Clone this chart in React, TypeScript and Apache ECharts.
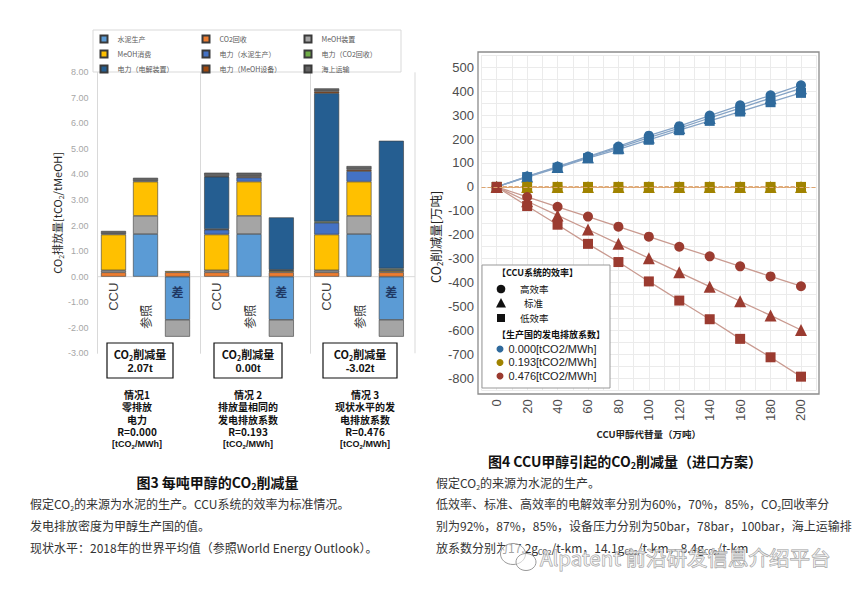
import React, { useEffect, useRef } from 'react';
import * as echarts from 'echarts';

const FONT = '"Liberation Sans", "Noto Sans CJK SC", sans-serif';
const FONT_CJK = '"Noto Sans CJK SC", "Liberation Sans", sans-serif';

// ===== 图3 每吨甲醇的CO2削减量 =====
const barCategories = ['CCU', '参照', '差'];
const componentNames = [
  '水泥生产', 'CO2回收', 'MeOH装置', 'MeOH消费', '电力（水泥生产）',
  '电力（CO2回收）', '电力（电解装置）', '电力（MeOH设备）', '海上运输',
];
const componentColors = [
  '#5B9BD5', '#ED7D31', '#A5A5A5', '#FFC000', '#4472C4',
  '#70AD47', '#255E91', '#9E480E', '#636363',
];
// order: [情况1 CCU, 参照, 差, 情况2 CCU, 参照, 差, 情况3 CCU, 参照, 差]
const cementProduction = [0, 1.67, -1.69, 0, 1.67, -1.69, 0, 1.67, -1.69];
const co2Capture = [0.17, 0, 0.17, 0.17, 0, 0.17, 0.17, 0, 0.17];
const meohPlant = [0.08, 0.71, -0.66, 0.08, 0.71, -0.66, 0.08, 0.71, -0.66];
const meohConsumption = [1.4, 1.34, 0.05, 1.4, 1.34, 0.05, 1.4, 1.34, 0.05];
const powerCement = [0, 0, 0, 0.19, 0.16, 0.03, 0.46, 0.41, 0.05];
const powerCapture = [0, 0, 0, 0.02, 0, 0.02, 0.05, 0, 0.05];
const powerElectrolysis = [0, 0, 0, 2.05, 0, 2.05, 5.02, 0, 5.0];
const powerMeoh = [0, 0, 0, 0.03, 0.04, 0, 0.07, 0.06, 0];
const shipping = [0.14, 0.15, 0, 0.13, 0.15, 0, 0.12, 0.14, 0];
const componentValues = [
  cementProduction, co2Capture, meohPlant, meohConsumption, powerCement,
  powerCapture, powerElectrolysis, powerMeoh, shipping,
];
const legendColumns = [
  ['水泥生产', 'MeOH消费', '电力（电解装置）'],
  ['CO2回收', '电力（水泥生产）', '电力（MeOH设备）'],
  ['MeOH装置', '电力（CO2回收）', '海上运输'],
];
const reductionValues = ['2.07t', '0.00t', '-3.02t'];
const scenarioLines = [
  ['情况1', '零排放', '电力', 'R=0.000'],
  ['情况 2', '排放量相同的', '发电排放系数', 'R=0.193'],
  ['情况 3', '现状水平的发', '电排放系数', 'R=0.476'],
];

// ===== 图4 CCU甲醇引起的CO2削减量 =====
const substitution = [0, 20, 40, 60, 80, 100, 120, 140, 160, 180, 200];
const factorNames = ['0.000[tCO2/MWh]', '0.193[tCO2/MWh]', '0.476[tCO2/MWh]'];
const factorColors = ['#2F6A9C', '#A08300', '#9B3B30'];
const factorLineColors = ['#86A4C6', '#DDA46E', '#C99A90'];
const efficiencyNames = ['高效率', '标准', '低效率'];
const r000High = [0, 44, 85, 127, 169, 214, 254, 298, 341, 383, 425];
const r000Std = [0, 43, 83, 124, 164, 206, 246, 288, 329, 371, 412];
const r000Low = [0, 41, 80, 120, 157, 197, 237, 276, 315, 354, 393];
const r193High = [0, 0, 0, 0, 0, 0, 0, 0, 0, 0, 0];
const r193Std = [0, 0, 0, 0, 0, 0, 0, 0, 0, 0, 0];
const r193Low = [0, 0, 0, 0, 0, 0, 0, 0, 0, 0, 0];
const r476High = [0, -42, -83, -124, -166, -208, -250, -290, -332, -374, -415];
const r476Std = [0, -60, -119, -178, -238, -298, -357, -417, -478, -537, -598];
const r476Low = [0, -80, -158, -238, -314, -395, -475, -553, -635, -712, -793];
const lineSeriesValues = [
  [r000High, r000Std, r000Low],
  [r193High, r193Std, r193Low],
  [r476High, r476Std, r476Low],
];

const mkRich = (size: number, weight: string, color: string, family = FONT_CJK) => {
  const s = Math.round(size * 0.62);
  return {
    n: { fontSize: size, fontWeight: weight, fontFamily: family, fill: color, color, lineHeight: size + 4 },
    s: { fontSize: s, fontWeight: weight, fontFamily: family, fill: color, color, lineHeight: s + 1, verticalAlign: 'bottom' },
  };
};

const txt = (x: number, y: number, text: string, size: number, o: any = {}) => ({
  type: 'text',
  x,
  y,
  z: o.z ?? 6,
  rotation: o.rotation ?? 0,
  style: {
    text,
    fontSize: size,
    fontFamily: o.family ?? FONT_CJK,
    fontWeight: o.weight ?? 'normal',
    fill: o.color ?? '#222',
    stroke: o.stroke,
    lineWidth: o.lineWidth,
    align: o.align ?? 'left',
    textAlign: o.align ?? 'left',
    verticalAlign: 'middle',
    textVerticalAlign: 'middle',
    rich: o.rich,
  },
});

function buildOption() {
  const L_TOP = 72.3;
  const L_H = 281;
  const L_MIN = -3;
  const L_MAX = 8;
  const zeroY = L_TOP + (L_H * L_MAX) / (L_MAX - L_MIN);
  const zeroOffset = -(L_TOP + L_H - zeroY);
  const leftGrids = [
    { left: 97.5, width: 96 },
    { left: 200.5, width: 97 },
    { left: 310.5, width: 97 },
  ];
  const rGrid = { left: 481.5, top: 55.3, width: 334.7, height: 335 };

  const grid: any[] = leftGrids.map((g) => ({
    left: g.left, top: L_TOP, width: g.width, height: L_H,
    containLabel: false, outerBoundsMode: 'none',
  }));
  grid.push({ ...rGrid, containLabel: false, outerBoundsMode: 'none' });

  const xAxis: any[] = leftGrids.map((_, g) => ({
    type: 'category',
    gridIndex: g,
    data: barCategories,
    position: 'bottom',
    offset: zeroOffset,
    axisLine: { show: false, onZero: false },
    axisTick: { show: false },
    splitLine: { show: false },
    axisLabel: {
      interval: 0,
      rotate: 90,
      margin: 6,
      fontSize: 13,
      color: '#404040',
      fontFamily: FONT,
      formatter: (v: string) => (v === '差' ? '' : v === '参照' ? '{r|参照}' : v),
      rich: { r: { fontSize: 12, color: '#404040', fontFamily: FONT_CJK, padding: [0, 22, 0, 0] } },
    },
  }));
  xAxis.push({
    type: 'value',
    gridIndex: 3,
    min: -10,
    max: 210,
    interval: 10,
    axisLine: { show: false, onZero: false },
    axisTick: { show: false },
    splitLine: { show: true, lineStyle: { color: '#ebebeb', width: 1 } },
    axisLabel: {
      rotate: 90,
      margin: 9,
      fontSize: 13,
      color: '#4d4d4d',
      fontFamily: FONT,
      formatter: (v: number) => (v >= 0 && v <= 200 && v % 20 === 0 ? String(v) : ''),
    },
    name: 'CCU甲醇代替量（万吨）',
    nameLocation: 'middle',
    nameGap: 35,
    nameTextStyle: { fontSize: 9.5, fontWeight: 'bold', color: '#222', fontFamily: FONT_CJK },
  });

  const yAxis: any[] = leftGrids.map((_, g) => ({
    type: 'value',
    gridIndex: g,
    min: L_MIN,
    max: L_MAX,
    interval: 1,
    axisLine: { show: true, onZero: false, lineStyle: { color: '#d9d9d9', width: 1 } },
    axisTick: { show: false },
    splitLine: { show: false },
    axisLabel: g === 0
      ? { show: true, margin: 9, fontSize: 9, color: '#a6a6a6', fontFamily: FONT, formatter: (v: number) => v.toFixed(2) }
      : { show: false },
    name: g === 0 ? '{n|CO}{s|2}{n|排放量[tCO}{s|2}{n|/tMeOH]}' : '',
    nameLocation: 'middle',
    nameGap: 28,
    nameTextStyle: { rich: mkRich(11, 'normal', '#262626') },
  }));
  yAxis.push({
    type: 'value',
    gridIndex: 3,
    min: -850,
    max: 550,
    interval: 50,
    axisLine: { show: false },
    axisTick: { show: false },
    splitLine: { show: true, lineStyle: { color: '#ebebeb', width: 1 } },
    axisLabel: {
      margin: 7.5,
      fontSize: 13,
      color: '#4d4d4d',
      fontFamily: FONT,
      formatter: (v: number) => (v % 100 === 0 && v >= -800 && v <= 500 ? String(v) : ''),
    },
    name: '{n|CO}{s|2}{n|削减量[万吨]}',
    nameLocation: 'middle',
    nameGap: 38,
    nameTextStyle: { padding: [0, 28, 0, 0], rich: mkRich(12.5, 'normal', '#222') },
  });

  const series: any[] = [];
  leftGrids.forEach((_, g) => {
    componentNames.forEach((name, k) => {
      series.push({
        type: 'bar',
        name,
        xAxisIndex: g,
        yAxisIndex: g,
        stack: 'scenario' + g,
        barWidth: 25,
        data: componentValues[k].slice(g * 3, g * 3 + 3).map((v) => (v === 0 ? null : v)),
        itemStyle: { color: componentColors[k], borderColor: '#3a3a3a', borderWidth: 0.6 },
        label: k === 0
          ? {
              show: true,
              position: 'insideTop',
              distance: 9,
              formatter: (p: any) => (p.dataIndex === 2 ? '差' : ''),
              fontSize: 12,
              fontWeight: 'bold',
              color: '#1f3864',
              fontFamily: FONT_CJK,
            }
          : { show: false },
      });
    });
  });

  const symbols = ['circle', 'triangle', 'rect'];
  const symbolSizes = [10, 12, 10];
  factorNames.forEach((name, f) => {
    symbols.forEach((sym, e) => {
      const s: any = {
        type: 'line',
        name,
        xAxisIndex: 3,
        yAxisIndex: 3,
        data: substitution.map((x, i) => [x, lineSeriesValues[f][e][i]]),
        symbol: sym,
        symbolSize: symbolSizes[e],
        itemStyle: { color: factorColors[f] },
        lineStyle: { color: factorLineColors[f], width: f === 1 ? 1 : 1.3, type: f === 1 ? 'dashed' : 'solid' },
        z: 2 + f,
      };
      if (f === 1 && e === 1) {
        s.markLine = {
          silent: true,
          symbol: 'none',
          label: { show: false },
          lineStyle: { type: 'dashed', color: '#DDA46E', width: 1 },
          data: [{ yAxis: 0 }],
        };
      }
      series.push(s);
    });
  });

  const legend: any[] = legendColumns.map((d, i) => ({
    data: d,
    orient: 'vertical',
    left: [99.5, 201.5, 303.5][i],
    top: 34.5,
    padding: 0,
    itemWidth: 7,
    itemHeight: 7,
    itemGap: 6,
    icon: 'rect',
    selectedMode: false,
    textStyle: { fontSize: 7, color: '#595959', fontFamily: FONT_CJK, lineHeight: 7, padding: [0, 0, 0, 5] },
  }));
  legend.push({
    data: factorNames,
    orient: 'vertical',
    left: 496.5,
    top: 343.5,
    padding: 0,
    itemWidth: 7,
    itemHeight: 7,
    itemGap: 2.5,
    icon: 'circle',
    selectedMode: false,
    textStyle: { fontSize: 11, color: '#222', fontFamily: FONT, lineHeight: 10 },
  });

  const g: any[] = [];
  // left legend frame
  g.push({ type: 'rect', z: 1, shape: { x: 93, y: 30, width: 308, height: 42 }, style: { fill: '#fff', stroke: '#d9d9d9', lineWidth: 1 } });
  // left panel right edge and zero line
  g.push({ type: 'line', z: 1, shape: { x1: 415, y1: L_TOP, x2: 415, y2: L_TOP + L_H }, style: { stroke: '#d9d9d9', lineWidth: 1 } });
  g.push({ type: 'line', z: 1, shape: { x1: 97.5, y1: zeroY, x2: 415, y2: zeroY }, style: { stroke: '#d9d9d9', lineWidth: 1 } });

  const boxes = [{ x: 107, w: 66 }, { x: 214, w: 68 }, { x: 323, w: 74 }];
  boxes.forEach((b, i) => {
    g.push({ type: 'rect', z: 5, shape: { x: b.x, y: 343, width: b.w, height: 35 }, style: { fill: '#fff', stroke: '#111', lineWidth: 1.2 } });
    g.push(txt(b.x + b.w / 2, 354, '{n|CO}{s|2}{n|削减量}', 11, { align: 'center', rich: mkRich(11, 'bold', '#111') }));
    g.push(txt(b.x + b.w / 2, 368, reductionValues[i], 11, { align: 'center', weight: 'bold', color: '#111', family: FONT }));
  });
  const scenCenters = [137, 248, 365];
  const lineYs = [394, 406.5, 419, 431.5, 444];
  scenarioLines.forEach((lines, i) => {
    lines.forEach((l, j) => {
      g.push(txt(scenCenters[i], lineYs[j], l, 10, { align: 'center', weight: 'bold', color: '#111' }));
    });
    g.push(txt(scenCenters[i], lineYs[4], '{n|[tCO}{s|2}{n|/MWh]}', 9, { align: 'center', rich: mkRich(9, 'bold', '#111', FONT) }));
  });
  // caption 3
  g.push(txt(217.5, 482, '{n|图3 每吨甲醇的CO}{s|2}{n|削减量}', 14, { align: 'center', rich: mkRich(14, 'bold', '#111') }));
  const leftNotes = [
    '{n|假定CO}{s|2}{n|的来源为水泥的生产。CCU系统的效率为标准情况。}',
    '{n|发电排放密度为甲醇生产国的值。}',
    '{n|现状水平：2018年的世界平均值（参照World Energy Outlook）。}',
  ];
  leftNotes.forEach((t, i) => g.push(txt(30, 503 + i * 22, t, 12, { rich: mkRich(12, 'normal', '#333') })));

  // right panel border
  g.push({ type: 'rect', z: 3, shape: { x: 478, y: 52, width: 341, height: 342 }, style: { fill: 'none', stroke: '#8c8c8c', lineWidth: 1.3 } });
  // right legend box
  g.push({ type: 'rect', z: 3, shape: { x: 482, y: 265, width: 128, height: 123 }, style: { fill: '#fff', stroke: '#999', lineWidth: 1 } });
  g.push(txt(497, 272, '【CCU系统的效率】', 9, { weight: 'bold', color: '#111' }));
  g.push({ type: 'circle', z: 6, shape: { cx: 501, cy: 289, r: 4.3 }, style: { fill: '#111' } });
  g.push({ type: 'polygon', z: 6, shape: { points: [[501, 298], [506, 307.5], [496, 307.5]] }, style: { fill: '#111' } });
  g.push({ type: 'rect', z: 6, shape: { x: 497, y: 314, width: 8, height: 8 }, style: { fill: '#111' } });
  g.push(txt(520, 289, efficiencyNames[0], 9.5, { color: '#111' }));
  g.push(txt(524, 303, efficiencyNames[1], 9.5, { color: '#111' }));
  g.push(txt(520, 318, efficiencyNames[2], 9.5, { color: '#111' }));
  g.push(txt(497, 334, '【生产国的发电排放系数】', 9, { weight: 'bold', color: '#111' }));

  // caption 4
  g.push(txt(625, 461, '{n|图4 CCU甲醇引起的CO}{s|2}{n|削减量（进口方案）}', 14, { align: 'center', rich: mkRich(14, 'bold', '#111') }));
  const rightNotes = [
    '{n|假定CO}{s|2}{n|的来源为水泥的生产。}',
    '{n|低效率、标准、高效率的电解效率分别为60%，70%，85%，CO}{s|2}{n|回收率分}',
    '{n|别为92%，87%，85%，设备压力分别为50bar，78bar，100bar，海上运输排}',
    '{n|放系数分别为17.2g}{s|CO2}{n|/t-km，14.1g}{s|CO2}{n|/t-km，8.4g}{s|CO2}{n|/t-km}',
  ];
  rightNotes.forEach((t, i) => g.push(txt(436, i === 0 ? 482.5 : 503 + (i - 1) * 22, t, 12, { rich: mkRich(12, 'normal', '#333') })));

  // watermark
  g.push({ type: 'ellipse', z: 8, shape: { cx: 513, cy: 554, rx: 12.5, ry: 10.5 }, style: { fill: 'rgba(255,255,255,0.55)', stroke: '#9a9a9a', lineWidth: 1 } });
  g.push({ type: 'ellipse', z: 8, shape: { cx: 526, cy: 562, rx: 10, ry: 8.5 }, style: { fill: 'rgba(255,255,255,0.55)', stroke: '#9a9a9a', lineWidth: 1 } });
  g.push(txt(540, 557, 'Alpatent 前沿研发信息介绍平台', 20.5, { z: 8, color: 'rgba(255,255,255,0.55)', stroke: '#9a9a9a', lineWidth: 0.9 }));

  return {
    animation: false,
    backgroundColor: '#ffffff',
    textStyle: { fontFamily: FONT },
    grid,
    xAxis,
    yAxis,
    legend,
    series,
    graphic: { elements: g },
  };
}

export default function App() {
  const ref = useRef<HTMLDivElement>(null);
  useEffect(() => {
    if (!ref.current) return;
    const chart = echarts.init(ref.current, undefined, { renderer: 'svg' });
    chart.setOption(buildOption() as any);
    return () => chart.dispose();
  }, []);
  return (
    <div
      ref={ref}
      style={{ position: 'absolute', left: 0, top: 0, width: 865, height: 594, background: '#fff' }}
    />
  );
}
